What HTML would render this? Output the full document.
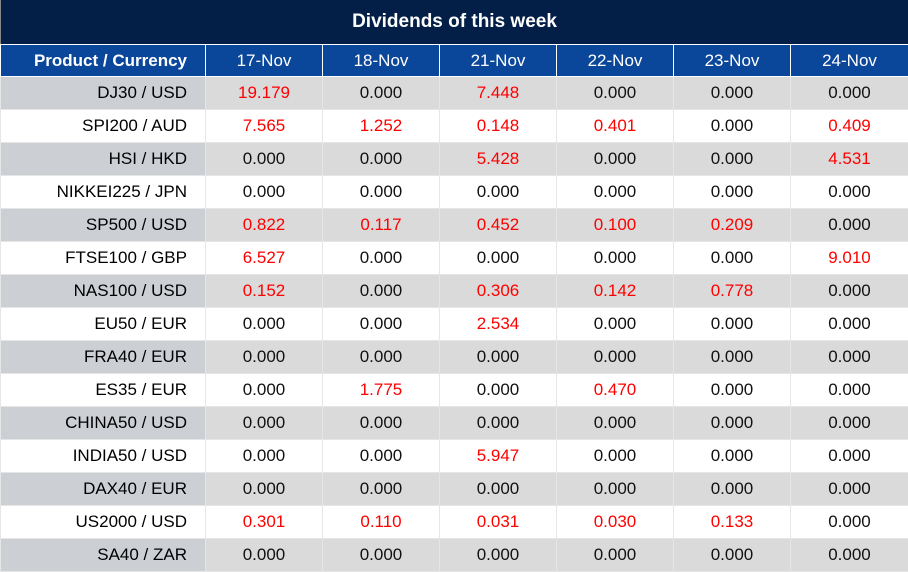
<!DOCTYPE html>
<html><head><meta charset="utf-8"><style>
*{margin:0;padding:0;box-sizing:border-box}
body{width:908px;height:571px;overflow:hidden;background:#fff;font-family:"Liberation Sans",sans-serif}
.title{height:44px;background:#031f47;color:#fff;font-weight:bold;font-size:19px;text-align:center;line-height:44px;border-left:1px solid #888}
table{border-collapse:collapse;table-layout:fixed;width:908px}
td,th{height:33px;border:1px solid #e6e6e6;font-size:17px;text-align:center;padding:0;color:#111}
th{background:#0a469a;color:#fff;font-weight:normal;border-color:#fff;height:32px}
th:first-child{font-weight:bold;text-align:right;padding-right:18px;font-size:17px}
td:first-child{text-align:right;padding-right:18px;color:#000}
tr.g td{background:#dadada}
tr.g td:first-child{background:#ccd0d5}
.r{color:#f00}
</style></head><body>
<div class="title">Dividends of this week</div>
<table>
<colgroup><col style="width:205px"><col style="width:117px"><col style="width:117px"><col style="width:117px"><col style="width:117px"><col style="width:117px"><col style="width:118px"></colgroup>
<tr><th>Product / Currency</th><th>17-Nov</th><th>18-Nov</th><th>21-Nov</th><th>22-Nov</th><th>23-Nov</th><th>24-Nov</th></tr>
<tr class="g"><td>DJ30 / USD</td><td class="r">19.179</td><td>0.000</td><td class="r">7.448</td><td>0.000</td><td>0.000</td><td>0.000</td></tr>
<tr><td>SPI200 / AUD</td><td class="r">7.565</td><td class="r">1.252</td><td class="r">0.148</td><td class="r">0.401</td><td>0.000</td><td class="r">0.409</td></tr>
<tr class="g"><td>HSI / HKD</td><td>0.000</td><td>0.000</td><td class="r">5.428</td><td>0.000</td><td>0.000</td><td class="r">4.531</td></tr>
<tr><td>NIKKEI225 / JPN</td><td>0.000</td><td>0.000</td><td>0.000</td><td>0.000</td><td>0.000</td><td>0.000</td></tr>
<tr class="g"><td>SP500 / USD</td><td class="r">0.822</td><td class="r">0.117</td><td class="r">0.452</td><td class="r">0.100</td><td class="r">0.209</td><td>0.000</td></tr>
<tr><td>FTSE100 / GBP</td><td class="r">6.527</td><td>0.000</td><td>0.000</td><td>0.000</td><td>0.000</td><td class="r">9.010</td></tr>
<tr class="g"><td>NAS100 / USD</td><td class="r">0.152</td><td>0.000</td><td class="r">0.306</td><td class="r">0.142</td><td class="r">0.778</td><td>0.000</td></tr>
<tr><td>EU50 / EUR</td><td>0.000</td><td>0.000</td><td class="r">2.534</td><td>0.000</td><td>0.000</td><td>0.000</td></tr>
<tr class="g"><td>FRA40 / EUR</td><td>0.000</td><td>0.000</td><td>0.000</td><td>0.000</td><td>0.000</td><td>0.000</td></tr>
<tr><td>ES35 / EUR</td><td>0.000</td><td class="r">1.775</td><td>0.000</td><td class="r">0.470</td><td>0.000</td><td>0.000</td></tr>
<tr class="g"><td>CHINA50 / USD</td><td>0.000</td><td>0.000</td><td>0.000</td><td>0.000</td><td>0.000</td><td>0.000</td></tr>
<tr><td>INDIA50 / USD</td><td>0.000</td><td>0.000</td><td class="r">5.947</td><td>0.000</td><td>0.000</td><td>0.000</td></tr>
<tr class="g"><td>DAX40 / EUR</td><td>0.000</td><td>0.000</td><td>0.000</td><td>0.000</td><td>0.000</td><td>0.000</td></tr>
<tr><td>US2000 / USD</td><td class="r">0.301</td><td class="r">0.110</td><td class="r">0.031</td><td class="r">0.030</td><td class="r">0.133</td><td>0.000</td></tr>
<tr class="g"><td>SA40 / ZAR</td><td>0.000</td><td>0.000</td><td>0.000</td><td>0.000</td><td>0.000</td><td>0.000</td></tr>
</table>
</body></html>
